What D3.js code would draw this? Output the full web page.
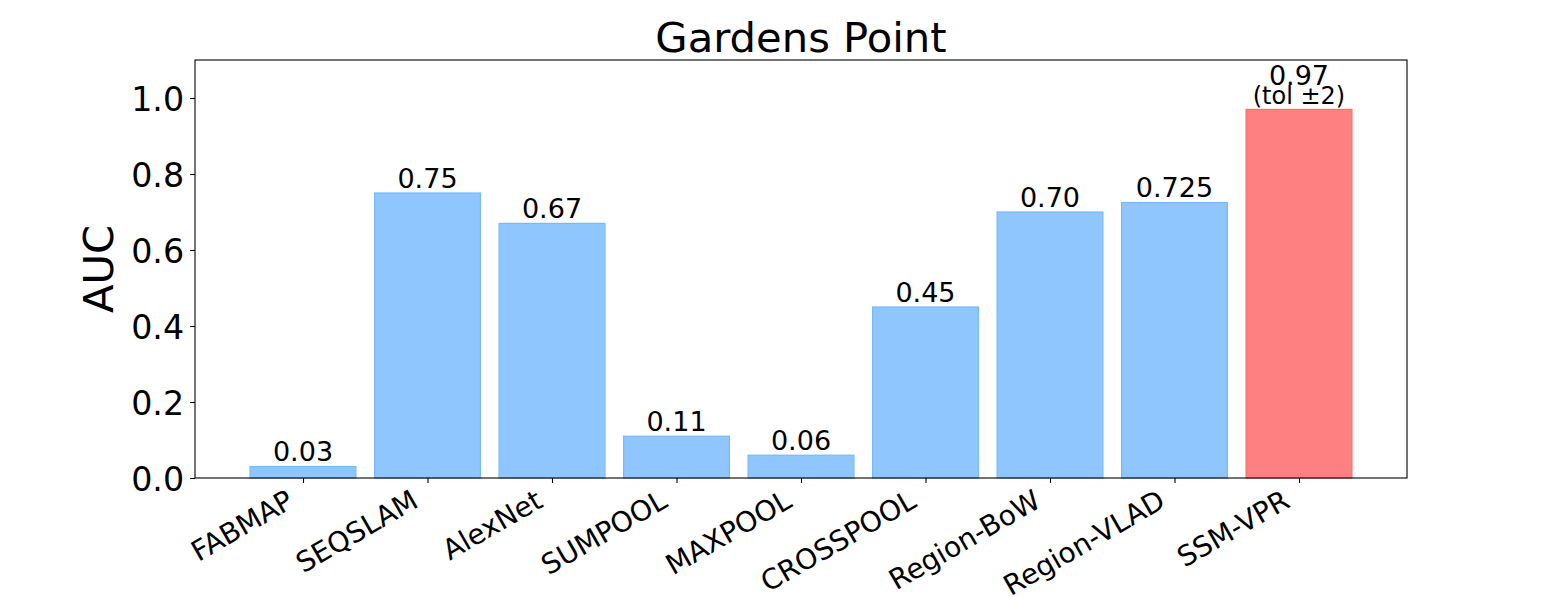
<!DOCTYPE html>
<html><head><meta charset="utf-8">
<script src="https://cdn.jsdelivr.net/npm/d3@7"></script>
<style>body{margin:0;background:#fff;} text{font-family:"DejaVu Sans",sans-serif;fill:#000;}</style>
</head><body>
<svg id="c" width="1562" height="597"></svg>
<script>
const categories = ["FABMAP","SEQSLAM","AlexNet","SUMPOOL","MAXPOOL","CROSSPOOL","Region-BoW","Region-VLAD","SSM-VPR"];
const values = [0.03,0.75,0.67,0.11,0.06,0.45,0.70,0.725,0.97];
const valueLabels = ["0.03","0.75","0.67","0.11","0.06","0.45","0.70","0.725","0.97"];
const highlight = [false,false,false,false,false,false,false,false,true];
const yTicks = [0.0,0.2,0.4,0.6,0.8,1.0];
const title = "Gardens Point";
const yLabel = "AUC";
const note = "(tol \u00b12)";

const svg = d3.select("#c");
const L = 195, R = 1407, T = 60, B = 478;
const bw = 0.85;
const x = d3.scaleLinear().domain([-0.8675, 8.8675]).range([L, R]);
const y = d3.scaleLinear().domain([0, 1.1]).range([B, T]);

// bars
svg.append("g").selectAll("rect").data(values).join("rect")
  .attr("x", (d,i) => x(i - bw/2))
  .attr("width", (d,i) => x(i + bw/2) - x(i - bw/2))
  .attr("y", d => y(d))
  .attr("height", d => y(0) - y(d))
  .attr("fill", (d,i) => highlight[i] ? "#ff8080" : "#8ec6fd")
  .attr("stroke", (d,i) => highlight[i] ? "#ff6f6f" : "#76baf9")
  .attr("stroke-width", 1.2);

// value labels
svg.append("g").selectAll("text").data(values).join("text")
  .attr("x", (d,i) => x(i))
  .attr("y", (d,i) => highlight[i] ? y(d) - 24.5 : y(d) - 5.5)
  .attr("text-anchor", "middle")
  .style("font-size", "27px")
  .text((d,i) => valueLabels[i]);
values.forEach((d,i) => {
  if (highlight[i]) {
    svg.append("text").attr("x", x(i)).attr("y", y(d) - 5)
      .attr("text-anchor","middle").style("font-size","24px").text(note);
  }
});

// frame
svg.append("rect").attr("x", L).attr("y", T).attr("width", R-L).attr("height", B-T)
  .attr("fill","none").attr("stroke","#000").attr("stroke-width",1.1);

// y axis
const yAxis = svg.append("g").attr("transform", `translate(${L},0)`)
  .call(d3.axisLeft(y).tickValues(yTicks).tickFormat(d3.format(".1f")).tickSize(4.9).tickPadding(6));
yAxis.select(".domain").remove();
yAxis.selectAll("line").attr("stroke","#000").attr("stroke-width",1.1);
yAxis.selectAll("text").style("font-size","33.3px").attr("font-family","DejaVu Sans").attr("dy","0.36em");

// x axis
const xAxis = svg.append("g").attr("transform", `translate(0,${B})`)
  .call(d3.axisBottom(x).tickValues(d3.range(categories.length)).tickFormat(i => categories[i]).tickSize(4.9));
xAxis.select(".domain").remove();
xAxis.selectAll("line").attr("stroke","#000").attr("stroke-width",1.1);
xAxis.selectAll("text")
  .style("font-size","28px").attr("font-family","DejaVu Sans")
  .attr("text-anchor","end")
  .attr("dy", null).attr("y", 0)
  .attr("transform", "translate(-8,28) rotate(-30)");

// title
svg.append("text").attr("x", (L+R)/2).attr("y", 52).attr("text-anchor","middle")
  .style("font-size","41.7px").text(title);
// y label
svg.append("text").attr("transform", `translate(113,${(T+B)/2}) rotate(-90)`)
  .attr("text-anchor","middle").style("font-size","41.7px").text(yLabel);
</script>
</body></html>
